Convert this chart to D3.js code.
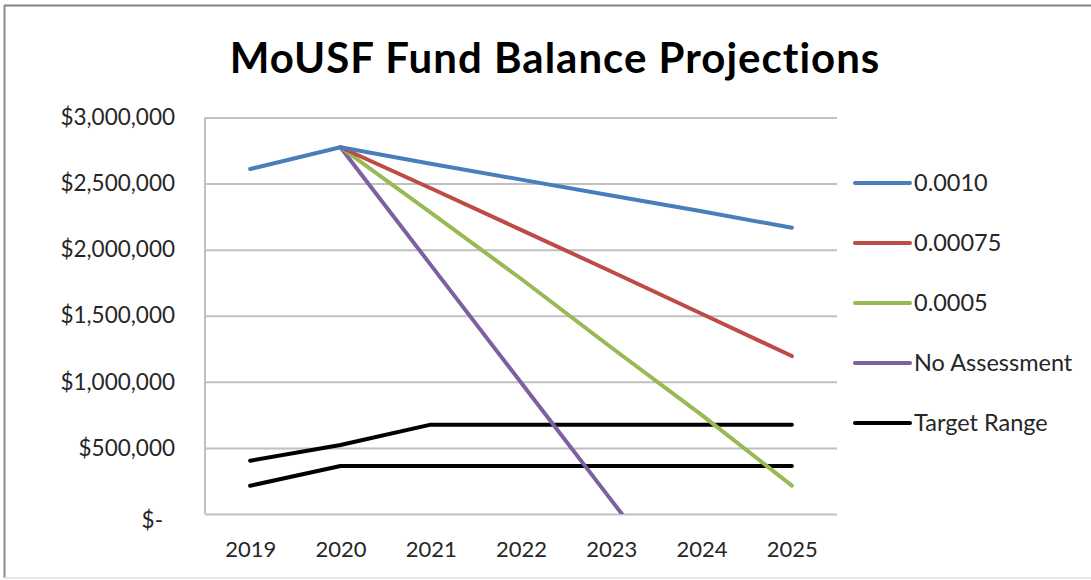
<!DOCTYPE html>
<html>
<head>
<meta charset="utf-8">
<script src="https://cdn.jsdelivr.net/npm/d3@7"></script>
<style>
  body { margin: 0; background: #fff; }
  svg { display: block; font-family: Lato, "Open Sans", sans-serif; }
</style>
</head>
<body>
<svg id="chart" width="1091" height="580"></svg>
<script>
const years = ["2019", "2020", "2021", "2022", "2023", "2024", "2025"];

const rate0010 = [2610000, 2775000, 2650000, 2530000, 2410000, 2290000, 2166000];
const rate00075 = [null, 2775000, 2465000, 2150000, 1835000, 1515000, 1195000];
const rate0005 = [null, 2775000, 2280000, 1780000, 1260000, 750000, 215000];
const noAssessment = [null, 2775000, 1885000, 995000, 105000, -785000, -1675000];
const targetHigh = [403000, 522000, 676000, 676000, 676000, 676000, 676000];
const targetLow = [214000, 363000, 363000, 363000, 363000, 363000, 363000];

const yTicks = [0, 500000, 1000000, 1500000, 2000000, 2500000, 3000000];

const series = [
  {name: "0.0010", values: rate0010, color: "#4a7ebb", legend: true},
  {name: "0.00075", values: rate00075, color: "#be4b48", legend: true},
  {name: "0.0005", values: rate0005, color: "#98b954", legend: true},
  {name: "No Assessment", values: noAssessment, color: "#7d60a0", legend: true},
  {name: "Target Range", values: targetHigh, color: "#000000", legend: true},
  {name: "Target Range low", values: targetLow, color: "#000000", legend: false}
];

const svg = d3.select('#chart');
const width = +svg.attr('width');

// outer chart frame (top + left darker, bottom faint)
svg.append('line')
  .attr('x1', 4).attr('x2', width).attr('y1', 5.5).attr('y2', 5.5)
  .attr('stroke', '#808080').attr('stroke-width', 2);
svg.append('line')
  .attr('x1', 4.5).attr('x2', 4.5).attr('y1', 5).attr('y2', 578)
  .attr('stroke', '#8c8c8c').attr('stroke-width', 2);
svg.append('line')
  .attr('x1', 4).attr('x2', width).attr('y1', 578).attr('y2', 578)
  .attr('stroke', '#e0e0e0').attr('stroke-width', 1.5);

svg.append('text')
  .attr('x', 555).attr('y', 73)
  .attr('text-anchor', 'middle')
  .attr('font-size', 42)
  .attr('font-weight', 'bold')
  .attr('letter-spacing', 1)
  .attr('fill', '#000')
  .text('MoUSF Fund Balance Projections');

const plot = {left: 205, right: 837, top: 117.5, bottom: 514};

const x = d3.scalePoint()
  .domain(years)
  .range([plot.left, plot.right])
  .padding(0.5);

const y = d3.scaleLinear()
  .domain([0, 3000000])
  .range([plot.bottom, plot.top]);

// gridlines
const grid = svg.append('g')
  .attr('transform', `translate(${plot.left},0)`)
  .call(d3.axisLeft(y).tickValues(yTicks).tickSize(-(plot.right - plot.left)).tickFormat(''));
grid.select('.domain').remove();
grid.selectAll('line').attr('stroke', '#c0c0c0').attr('stroke-width', 2);

// plot area left border
svg.append('line')
  .attr('x1', plot.left).attr('x2', plot.left)
  .attr('y1', plot.top).attr('y2', plot.bottom)
  .attr('stroke', '#c0c0c0').attr('stroke-width', 2);

// y axis labels
const fmt = v => v === 0 ? '$-' : '$' + d3.format(',')(v);
const yAxisG = svg.append('g')
  .attr('transform', `translate(${plot.left},0)`)
  .call(d3.axisLeft(y).tickValues(yTicks).tickSize(0).tickPadding(30).tickFormat(fmt));
yAxisG.select('.domain').remove();
yAxisG.selectAll('text')
  .attr('font-size', 22.5)
  .attr('font-family', 'Lato, "Open Sans", sans-serif')
  .attr('fill', '#262626')
  .attr('dx', d => d === 0 ? -12 : 0)
  .attr('dy', d => d === 0 ? '0.6em' : '0.32em');

// x axis labels
const xAxisG = svg.append('g')
  .attr('transform', `translate(0,${plot.bottom})`)
  .call(d3.axisBottom(x).tickSize(0).tickPadding(27));
xAxisG.select('.domain').remove();
xAxisG.selectAll('text')
  .attr('font-size', 22)
  .attr('font-family', 'Lato, "Open Sans", sans-serif')
  .attr('fill', '#262626');

// lines
svg.append('clipPath').attr('id', 'plot-clip')
  .append('rect')
  .attr('x', plot.left).attr('y', 0)
  .attr('width', plot.right - plot.left).attr('height', plot.bottom);

const line = d3.line()
  .defined(d => d[1] !== null)
  .x(d => x(d[0]))
  .y(d => y(d[1]));

svg.append('g')
  .attr('clip-path', 'url(#plot-clip)')
  .selectAll('path')
  .data(series.slice().reverse())
  .join('path')
    .attr('fill', 'none')
    .attr('stroke', d => d.color)
    .attr('stroke-width', 4)
    .attr('stroke-linejoin', 'round')
    .attr('stroke-linecap', 'round')
    .attr('d', d => line(years.map((yr, i) => [yr, d.values[i]])));

// legend
const legendItems = series.filter(s => s.legend);
const legend = svg.append('g')
  .selectAll('g')
  .data(legendItems)
  .join('g')
    .attr('transform', (_, i) => `translate(855,${183 + i * 60})`);

legend.append('line')
  .attr('x1', 0).attr('x2', 55)
  .attr('stroke', d => d.color)
  .attr('stroke-width', 4)
  .attr('stroke-linecap', 'round');

legend.append('text')
  .attr('x', 59)
  .attr('dy', '0.35em')
  .attr('font-size', 23.5)
  .attr('fill', '#262626')
  .text(d => d.name);
</script>
</body>
</html>
